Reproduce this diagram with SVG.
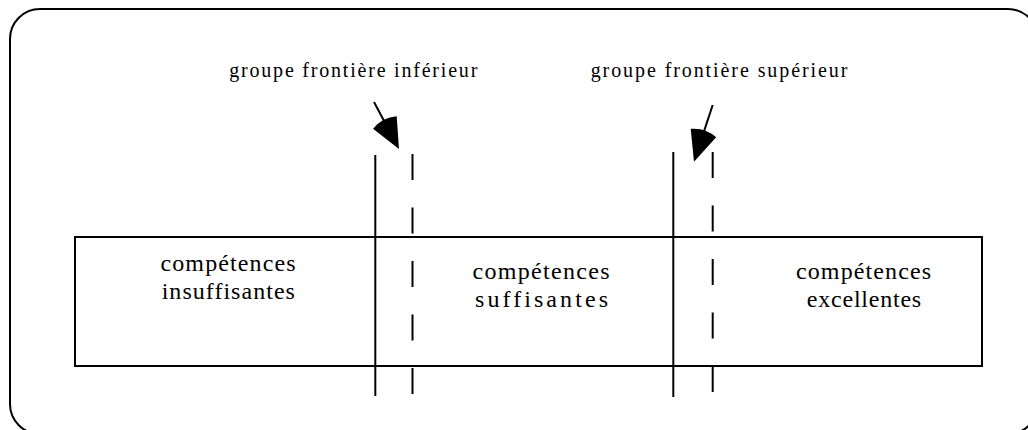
<svg xmlns="http://www.w3.org/2000/svg" width="1028" height="430" viewBox="0 0 1028 430">
<style>
.ln{stroke:#000;stroke-width:2;fill:none}
.dash{stroke:#000;stroke-width:2;fill:none;stroke-dasharray:26 27.5}
.lbl{font-family:"Liberation Serif","Times New Roman",serif;font-size:24px;fill:#000;text-anchor:middle}
.top{font-family:"Liberation Serif","Times New Roman",serif;font-size:20px;fill:#000}
</style>
<defs>
<marker id="head" markerUnits="userSpaceOnUse" orient="auto" refX="-15" refY="0" markerWidth="40" markerHeight="40" viewBox="-35 -20 40 40" overflow="visible">
<path d="M0,0 L-30.1,-13.4 A33,33 0 0 0 -30.1,13.4 Z" fill="#000"/>
</marker>
</defs>
<rect id="frame" x="10" y="9" width="1028" height="425" rx="30" ry="30" class="ln"/>
<g id="scale">
<rect x="75" y="237" width="907" height="129" class="ln"/>
</g>
<g id="connectors">
<line x1="375.3" y1="155" x2="375.3" y2="396" class="ln"/>
<line x1="412.5" y1="154" x2="412.5" y2="397" class="dash"/>
<line x1="673.3" y1="152" x2="673.3" y2="397" class="ln"/>
<line x1="712.7" y1="152" x2="712.7" y2="397" class="dash"/>
<line x1="374" y1="102" x2="391.95" y2="135.8" class="ln" marker-end="url(#head)"/>
<line x1="712.7" y1="105" x2="698.7" y2="147.4" class="ln" marker-end="url(#head)"/>
</g>
<g id="label-inferieur">
<text class="top" x="229.3" y="77" textLength="248" lengthAdjust="spacing">groupe frontière inférieur</text>
</g>
<g id="label-superieur">
<text class="top" x="590.7" y="77" textLength="256.7" lengthAdjust="spacing">groupe frontière supérieur</text>
</g>
<g id="node-insuffisantes">
<text class="lbl" x="228" y="271" textLength="135" lengthAdjust="spacing">compétences</text>
<text class="lbl" x="228.3" y="299" textLength="133.3" lengthAdjust="spacing">insuffisantes</text>
</g>
<g id="node-suffisantes">
<text class="lbl" x="541" y="279" textLength="137" lengthAdjust="spacing">compétences</text>
<text class="lbl" x="541.5" y="307" textLength="133" lengthAdjust="spacing">suffisantes</text>
</g>
<g id="node-excellentes">
<text class="lbl" x="863.5" y="279" textLength="135" lengthAdjust="spacing">compétences</text>
<text class="lbl" x="864" y="307" textLength="114.3" lengthAdjust="spacing">excellentes</text>
</g>
</svg>
